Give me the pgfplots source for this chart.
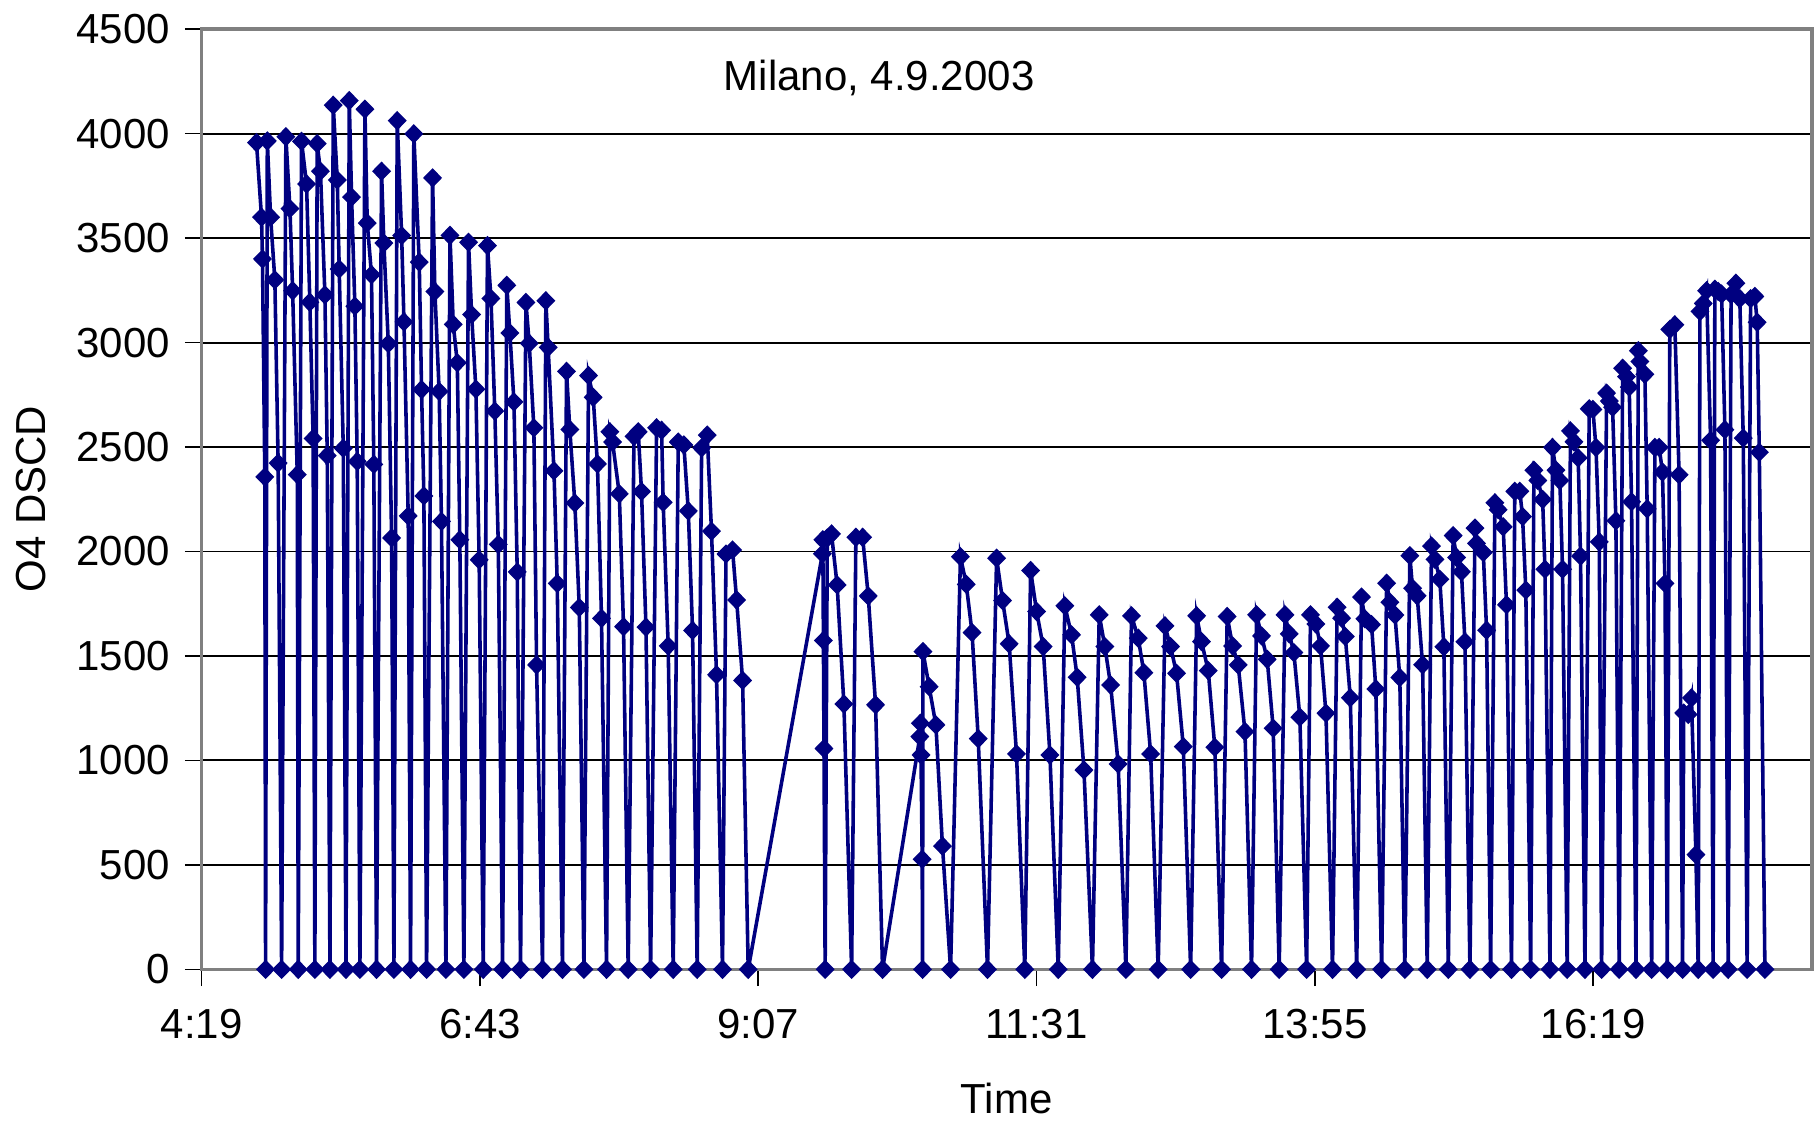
\documentclass[border=0pt]{standalone}
\usepackage{fontspec}
\setmainfont{Liberation Sans}
\usepackage{pgfplots}
\pgfplotsset{compat=1.18}
\definecolor{navyline}{RGB}{0,0,128}
\begin{document}
\begin{tikzpicture}
\begin{axis}[
  at={(0,0)}, anchor=south west,
  scale only axis,
  width=383.4pt, height=223.86pt,
  xmin=259.2, xmax=1092.3,
  ymin=0, ymax=4500,
  xtick={259.2,403.2,547.2,691.2,835.2,979.2},
  xticklabels={4:19,6:43,9:07,11:31,13:55,16:19},
  ytick={0,500,1000,1500,2000,2500,3000,3500,4000,4500},
  yticklabels={0,500,1000,1500,2000,2500,3000,3500,4000,4500},
  scaled y ticks=false,
  tick align=outside,
  xtick pos=bottom, ytick pos=left,
  major tick length=4pt,
  tick style={black, line width=0.4pt},
  ymajorgrids,
  major grid style={black, line width=0.45pt},
  axis line style={draw=gray, line width=0.8pt},
  tick label style={font=\fontsize{10}{12}\selectfont},
  xticklabel style={yshift=-2pt},
  label style={font=\fontsize{10}{12}\selectfont},
  xlabel={Time},
  xlabel style={at={(rel axis cs:0.5,0)}, anchor=center, yshift=-30.8pt},
  ylabel={O4 DSCD},
  ylabel style={at={([xshift=-40.6pt]rel axis cs:0,0.5)}, anchor=center},
  clip=false,
]
\addplot[color=navyline, line width=0.85pt, mark=diamond*,
  mark options={fill=navyline, draw=navyline, line width=0.3pt, xscale=1.3}, mark size=2.1pt]
coordinates {
(287.6,3957) (290.2,3600) (290.7,3400) (291.9,2357) (292.3,0)
(293.2,3965) (294.9,3600) (297.1,3300) (298.8,2423) (300.6,0)
(302.8,3985) (304.9,3641) (306.3,3248) (308.7,2368) (309.2,0)
(310.9,3963) (313.5,3759) (315.2,3193) (316.9,2541) (317.8,0)
(319.0,3952) (320.7,3820) (323.0,3228) (324.2,2459) (325.6,0)
(327.3,4136) (329.4,3778) (330.4,3352) (332.5,2494) (333.9,0)
(335.6,4158) (336.8,3696) (338.5,3174) (339.7,2431) (341.1,0)
(343.7,4117) (344.9,3572) (347.1,3325) (348.3,2417) (349.7,0)
(352.3,3820) (353.5,3476) (355.8,2995) (357.5,2065) (358.7,0)
(360.4,4062) (362.7,3512) (363.9,3099) (366.1,2170) (367.3,0)
(369.0,3999) (371.8,3385) (373.0,2775) (374.2,2266) (375.6,0)
(378.7,3788) (379.9,3244) (382.1,2766) (383.3,2144) (385.6,0)
(387.7,3513) (389.4,3087) (391.5,2903) (392.8,2056) (394.9,0)
(397.3,3480) (398.9,3134) (401.1,2777) (402.8,1960) (404.9,0)
(407.1,3464) (408.9,3211) (410.9,2672) (412.7,2034) (414.9,0)
(417.1,3274) (418.7,3046) (420.8,2716) (422.5,1902) (424.2,0)
(427.0,3192) (428.7,2996) (431.1,2592) (432.5,1457) (435.6,0)
(437.3,3200) (438.5,2977) (441.5,2386) (443.2,1847) (445.9,0)
(448.0,2862) (449.7,2584) (452.3,2232) (454.6,1732) (457.0,0)
(459.4,2842) (461.8,2738) (464.0,2419) (466.1,1680) (468.7,0)
(470.4,2573) (471.8,2524) (475.3,2276) (477.5,1640) (479.9,0)
(482.9,2551) (485.1,2573) (486.8,2287) (489.1,1638) (491.5,0)
(494.6,2592) (497.2,2580) (498.0,2235) (500.6,1548) (503.2,0)
(505.8,2524) (508.7,2510) (511.0,2194) (513.2,1622) (515.6,0)
(517.9,2496) (520.8,2557) (523.0,2097) (525.6,1410) (528.7,0)
(530.5,1988) (533.9,2007) (536.0,1768) (539.1,1383) (542.0,0)
(580.4,1989) (580.6,2056) (580.9,1574) (581.2,1057) (581.8,0)
(582.9,2064) (585.1,2084) (588.0,1840) (591.5,1270) (595.5,0)
(597.7,2068) (601.2,2068) (604.1,1787) (607.9,1266) (611.5,0)
(630.8,1114) (631.1,1178) (631.4,1026) (632.0,527) (632.2,0)
(632.4,1521) (635.6,1353) (639.1,1170) (642.5,590) (646.7,0)
(651.8,1975) (654.8,1843) (657.8,1612) (661.0,1104) (665.8,0)
(670.5,1968) (673.6,1765) (677.0,1558) (680.8,1031) (685.1,0)
(688.1,1909) (691.2,1713) (694.6,1545) (698.1,1026) (702.4,0)
(705.8,1740) (709.3,1601) (712.2,1398) (715.7,954) (720.1,0)
(723.6,1697) (726.5,1545) (729.5,1361) (733.4,983) (737.4,0)
(740.3,1692) (743.8,1585) (746.7,1420) (750.2,1031) (754.1,0)
(757.6,1644) (760.5,1545) (763.6,1417) (767.1,1066) (770.9,0)
(774.0,1692) (776.5,1569) (780.0,1430) (783.4,1063) (786.9,0)
(789.8,1689) (792.6,1548) (795.5,1457) (799.0,1138) (802.4,0)
(805.0,1697) (807.6,1596) (810.5,1484) (813.6,1154) (816.7,0)
(819.7,1697) (821.9,1606) (824.3,1516) (827.4,1207) (830.9,0)
(832.9,1697) (835.7,1653) (838.1,1548) (840.9,1226) (844.3,0)
(846.7,1733) (849.0,1681) (850.9,1593) (853.5,1300) (856.8,0)
(859.3,1782) (861.0,1678) (864.5,1650) (866.7,1342) (869.7,0)
(872.3,1848) (874.0,1757) (876.6,1696) (879.1,1397) (881.7,0)
(884.3,1980) (885.7,1824) (888.1,1788) (890.9,1458) (893.3,0)
(895.5,2026) (897.3,1962) (899.8,1867) (901.9,1544) (904.2,0)
(906.7,2076) (908.5,1971) (911.0,1903) (912.8,1568) (915.4,0)
(918.0,2112) (918.8,2039) (922.3,1995) (924.0,1623) (926.1,0)
(928.3,2233) (930.0,2200) (932.6,2118) (934.3,1745) (936.9,0)
(938.6,2288) (941.2,2288) (942.6,2167) (944.3,1815) (946.8,0)
(948.5,2389) (950.5,2340) (953.0,2249) (954.2,1915) (956.8,0)
(958.1,2498) (959.9,2389) (961.9,2340) (963.3,1915) (965.7,0)
(967.4,2577) (969.2,2525) (971.4,2448) (972.6,1978) (974.9,0)
(977.1,2683) (979.0,2680) (980.6,2498) (982.3,2046) (983.5,0)
(986.1,2758) (987.5,2720) (989.2,2690) (990.9,2147) (992.6,0)
(994.4,2877) (996.4,2837) (997.8,2787) (999.0,2238) (1001.3,0)
(1002.5,2961) (1003.3,2909) (1005.9,2848) (1007.1,2204) (1009.4,0)
(1011.1,2498) (1013.3,2498) (1015.0,2380) (1016.3,1847) (1017.5,0)
(1018.8,3063) (1021.4,3085) (1023.6,2367) (1025.4,0)
(1026.0,1227) (1028.3,1220) (1030.0,1299) (1032.3,549) (1033.5,0)
(1034.4,3149) (1036.1,3187) (1037.8,3248) (1039.9,2532) (1041.2,0)
(1042.1,3255) (1043.8,3245) (1045.6,3232) (1047.3,2583) (1049.0,0)
(1050.5,3230) (1053.0,3284) (1055.0,3210) (1056.8,2543) (1058.8,0)
(1060.6,3210) (1062.8,3221) (1064.0,3097) (1065.1,2475) (1068.0,0)
};
\node[anchor=west, inner sep=0pt, font=\fontsize{10}{12}\selectfont] at (axis cs:529,4265) {Milano, 4.9.2003};
\end{axis}
\pgfresetboundingbox
\path[use as bounding box] (-48.0pt,-36.3pt) rectangle (383.9pt,230.8pt);
\end{tikzpicture}
\end{document}
